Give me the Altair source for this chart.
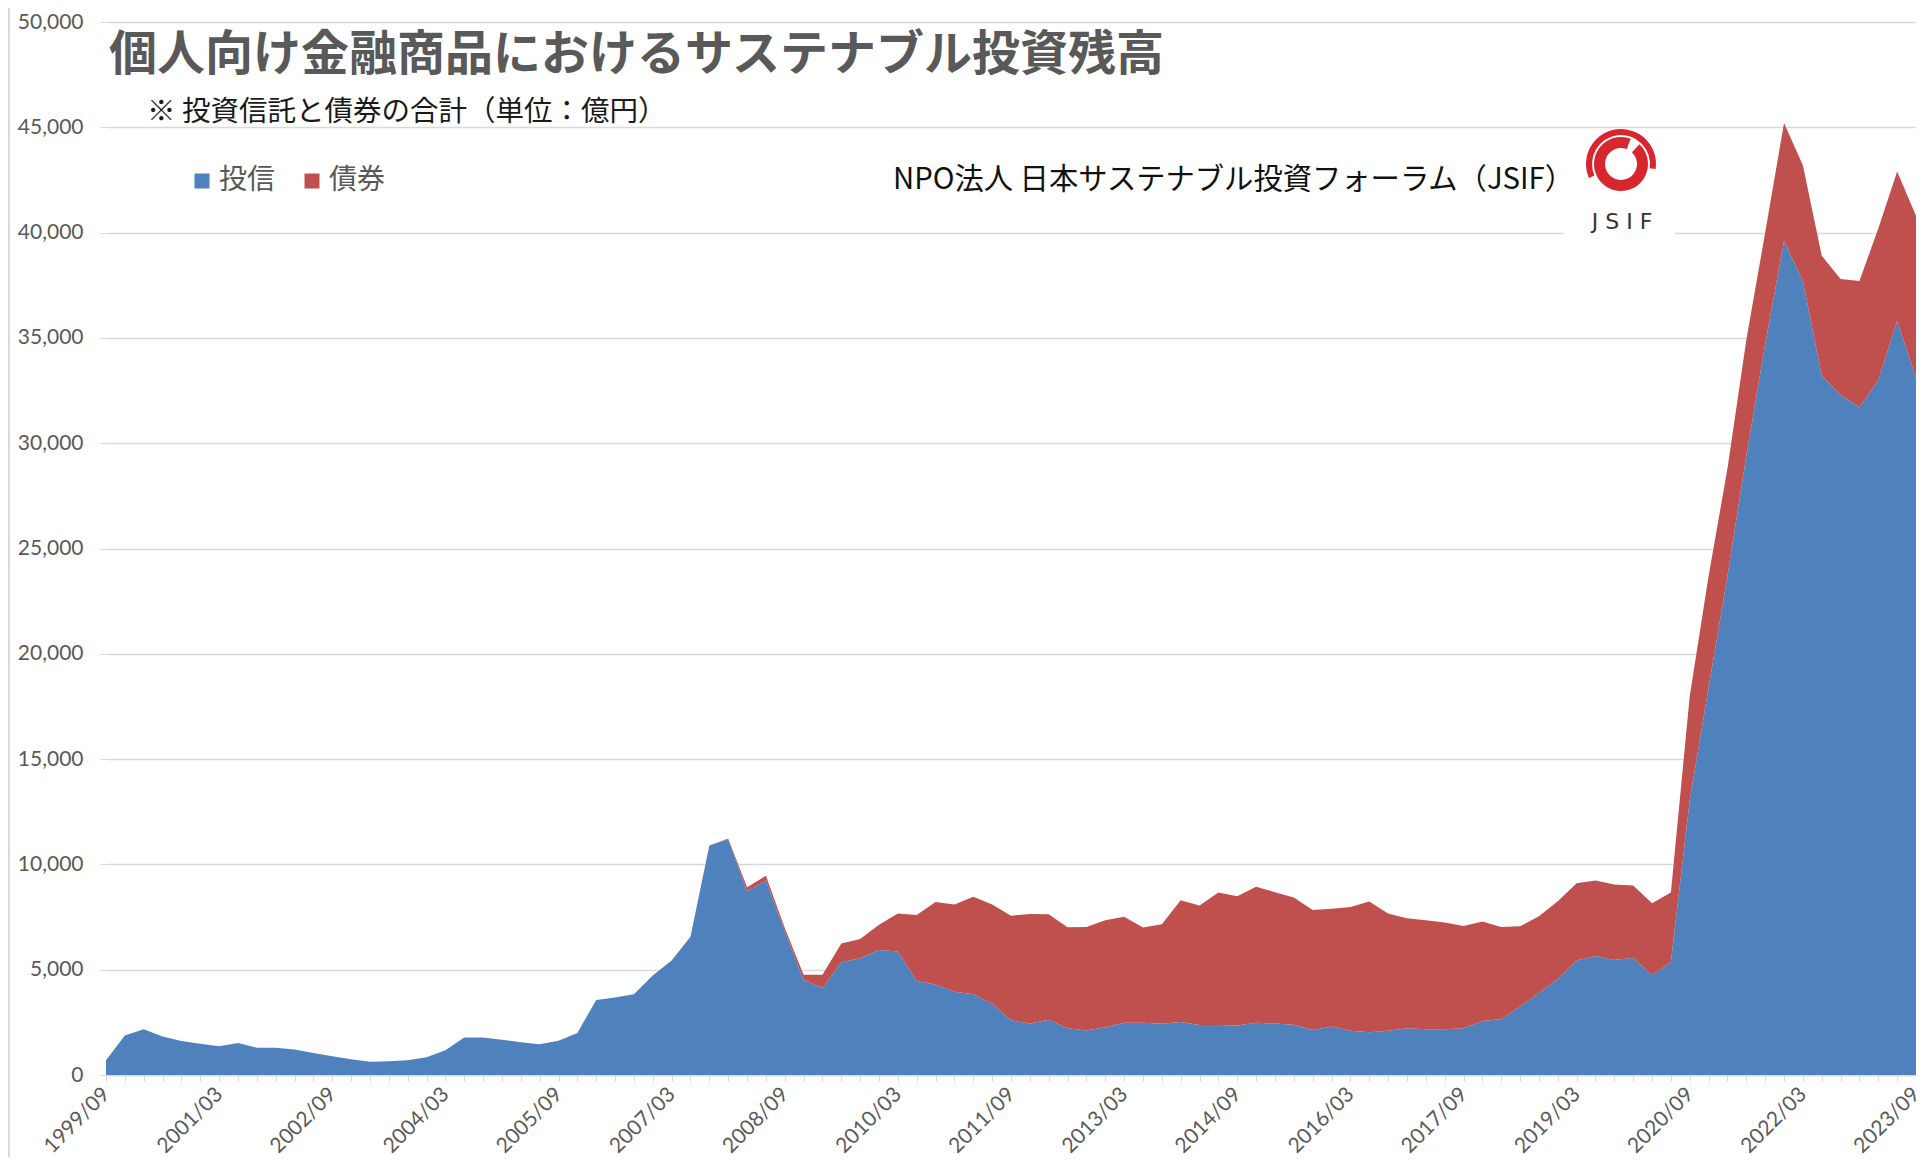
import altair as alt
import pandas as pd

# quarterly periods 1999/09 .. 2023/09
periods = []
_y, _m = 1999, 9
for _ in range(97):
    periods.append(f"{_y}/{_m:02d}")
    _m += 3
    if _m > 12:
        _m -= 12
        _y += 1

series_names = ["投信", "債券"]
series_colors = ["#4F81BD", "#C0504D"]

# 投信 (investment trusts), 億円
trust = [700, 1870, 2170, 1830, 1620, 1480, 1370, 1520, 1290, 1290,
         1210, 1050, 890, 750, 630, 650, 700, 840, 1170, 1780,
         1780, 1670, 1560, 1460, 1630, 2000, 3560, 3680, 3830, 4730,
         5440, 6570, 10900, 11190, 8730, 9240, 6830, 4520, 4130, 5350,
         5540, 5940, 5870, 4460, 4300, 3950, 3830, 3380, 2600, 2440,
         2620, 2220, 2110, 2270, 2480, 2480, 2430, 2520, 2370, 2370,
         2350, 2480, 2440, 2390, 2140, 2300, 2100, 2030, 2100, 2220,
         2170, 2170, 2220, 2560, 2650, 3250, 3890, 4560, 5440, 5650,
         5460, 5570, 4740, 5350, 13060, 18400, 23700, 29400, 34700, 39600,
         37700, 33200, 32300, 31700, 33000, 35800, 33100]

# 債券 (bonds), 億円
bonds = [0] * 33 + [40,
         190, 220, 150, 240, 630, 900, 920, 1190, 1800, 3140,
         3920, 4150, 4630, 4720, 4960, 5210, 5010, 4800, 4920, 5080,
         5030, 4520, 4730, 5780, 5680, 6300, 6140, 6460, 6240, 6040,
         5700, 5590, 5880, 6210, 5570, 5220, 5180, 5070, 4860, 4730,
         4380, 3810, 3650, 3690, 3660, 3590, 3590, 3430, 3420, 3320,
         4940, 5300, 5100, 5500, 5300, 5600, 5500, 5700, 5500, 6000,
         7200, 7100, 7700]

y_ticks = list(range(0, 50001, 5000))

title_text = "個人向け金融商品におけるサステナブル投資残高"
subtitle_text = "※ 投資信託と債券の合計（単位：億円）"
org_text = "NPO法人 日本サステナブル投資フォーラム（JSIF）"
logo_text = "J S I F"

rows = []
for i, p in enumerate(periods):
    rows.append({"period": p, "series": series_names[0], "value": trust[i], "ord": 0})
    rows.append({"period": p, "series": series_names[1], "value": bonds[i], "ord": 1})
df = pd.DataFrame(rows)

W, H = 1810, 1053
JP = "Noto Sans CJK JP"
GRAY = "#595959"
GRID = "#d9d9d9"

label_expr = ("((toNumber(substring(datum.value,0,4))-1999)*4 + "
              "(toNumber(substring(datum.value,5,7))-9)/3) % 6 == 0 ? datum.value : ''")

area = alt.Chart(df).mark_area(interpolate="linear", opacity=1).encode(
    x=alt.X("period:O", sort=periods,
            scale=alt.Scale(type="point", padding=0),
            axis=alt.Axis(title=None, labelExpr=label_expr, labelAngle=-45,
                          labelAlign="right", labelBaseline="middle",
                          labelPadding=10, labelFont="Lato", labelFontSize=21,
                          labelColor=GRAY, labelOverlap=False, labelBound=False,
                          labelFlush=False,
                          domainColor=GRID, domainWidth=1.5,
                          tickColor=GRID, tickSize=6, grid=False)),
    y=alt.Y("value:Q", stack="zero",
            scale=alt.Scale(domain=[0, 50000], nice=False),
            axis=alt.Axis(title=None, values=y_ticks, format=",d",
                          labelFont="Lato", labelFontSize=21, labelColor=GRAY,
                          labelPadding=17, domain=False, tickColor=GRID,
                          tickSize=6, grid=True, gridColor=GRID, gridWidth=1.5)),
    color=alt.Color("series:N",
                    scale=alt.Scale(domain=series_names, range=series_colors),
                    legend=alt.Legend(title=None, orient="none", direction="horizontal",
                                      legendX=82, legendY=145,
                                      symbolType="square", symbolSize=225,
                                      symbolStrokeWidth=0, labelOffset=3,
                                      columnPadding=22, labelFont=JP,
                                      labelFontSize=28, labelColor=GRAY)),
    order=alt.Order("ord:Q", sort="ascending"),
)

one = pd.DataFrame({"t": [""]})

border = alt.Chart(one).mark_rule(color=GRID, strokeWidth=2).encode(
    x=alt.value(-97), y=alt.value(-14), y2=alt.value(H + 82))

logo_box = alt.Chart(one).mark_rect(color="white").encode(
    x=alt.value(1458), x2=alt.value(1569), y=alt.value(108), y2=alt.value(216))

def text_layer(txt, x, y, size, color, font=JP, weight="normal", align="left"):
    d = pd.DataFrame({"t": [txt]})
    return alt.Chart(d).mark_text(align=align, baseline="middle", font=font,
                                  fontSize=size, color=color, fontWeight=weight).encode(
        x=alt.value(x), y=alt.value(y), text="t:N")

title = text_layer(title_text, 3, 34, 48, GRAY, weight="bold")
subtitle = text_layer(subtitle_text, 41, 90, 28.5, "#1a1a1a")
org = text_layer(org_text, 787, 158, 29.3, "#111111")
logo_label = text_layer(logo_text, 1516, 200, 22, "#333333", font="DejaVu Sans", align="center")

LX, LY = 1515, 142
ring = alt.Chart(one).mark_arc(innerRadius=16, outerRadius=27, theta=0.75, theta2=6.65,
                               color="#D7262E").encode(x=alt.value(LX), y=alt.value(LY))
swirl = alt.Chart(one).mark_arc(innerRadius=29, outerRadius=35, theta=4.3, theta2=8.0,
                                color="#D7262E").encode(x=alt.value(LX), y=alt.value(LY))

chart = alt.layer(border, logo_box, area, title, subtitle, org, ring, swirl, logo_label).properties(
    width=W, height=H,
    padding={"left": 98, "top": 14, "right": 0, "bottom": 82},
    autosize=alt.AutoSizeParams(type="none"),
).configure_view(stroke=None)

chart.save("out.html", embed_options={"renderer": "svg", "actions": False})
